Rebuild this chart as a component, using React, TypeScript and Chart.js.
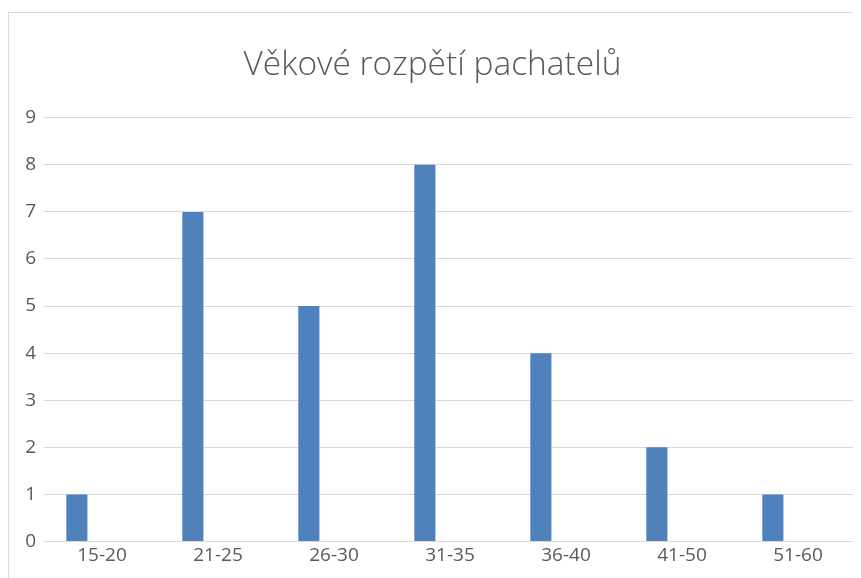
import React, { useEffect, useRef } from "react";
import { Chart, registerables } from "chart.js";

Chart.register(...registerables);

const title = "Věkové rozpětí pachatelů";
const categories = ["15-20", "21-25", "26-30", "31-35", "36-40", "41-50", "51-60"];
const counts = [1, 7, 5, 8, 4, 2, 1];
const emptySeriesA: (number | null)[] = [null, null, null, null, null, null, null];
const emptySeriesB: (number | null)[] = [null, null, null, null, null, null, null];
const yTicks = [0, 1, 2, 3, 4, 5, 6, 7, 8, 9];

const TEXT = "#595959";
const FONT = "'Open Sans', 'Liberation Sans', sans-serif";

export default function App() {
  const ref = useRef<HTMLCanvasElement | null>(null);

  useEffect(() => {
    document.body.style.overflow = "hidden";
    const canvas = ref.current;
    if (!canvas) return;
    const chart = new Chart(canvas, {
      type: "bar",
      data: {
        labels: categories,
        datasets: [
          { label: "Počet", data: counts, backgroundColor: "#4f81bd", categoryPercentage: 0.65, barPercentage: 0.84 },
          { label: "", data: emptySeriesA, backgroundColor: "#c0504d", categoryPercentage: 0.65, barPercentage: 0.84 },
          { label: "", data: emptySeriesB, backgroundColor: "#9bbb59", categoryPercentage: 0.65, barPercentage: 0.84 },
        ],
      },
      options: {
        responsive: false,
        animation: false,
        layout: { padding: { left: 0, right: 5, top: 0, bottom: 0 } },
        plugins: {
          legend: { display: false },
          tooltip: { enabled: false },
          title: {
            display: true,
            text: title,
            color: TEXT,
            font: { family: FONT, size: 33.5, weight: "300" as any },
            padding: { top: 32, bottom: 32.5 },
          },
        },
        scales: {
          x: {
            grid: { display: false, drawTicks: false },
            border: { display: false },
            ticks: { color: TEXT, font: { family: FONT, size: 19 }, padding: 3, maxRotation: 0 },
            afterFit: (s: any) => { s.height = 36.5; },
          },
          y: {
            min: 0,
            max: 9,
            afterBuildTicks: (s: any) => { s.ticks = yTicks.map((v) => ({ value: v })); },
            grid: { color: "#d9d9d9", lineWidth: 1, drawTicks: false },
            border: { display: false },
            ticks: { color: TEXT, font: { family: FONT, size: 19 }, padding: 8 },
            afterFit: (s: any) => { s.width = 35; },
          },
        },
      },
    });
    return () => chart.destroy();
  }, []);

  return (
    <div style={{ marginTop: 4, borderTop: "1px solid #d9d9d9", borderLeft: "1px solid #d9d9d9", width: 853, height: 566 }}>
      <canvas ref={ref} width={852} height={565} style={{ display: "block" }} />
    </div>
  );
}
